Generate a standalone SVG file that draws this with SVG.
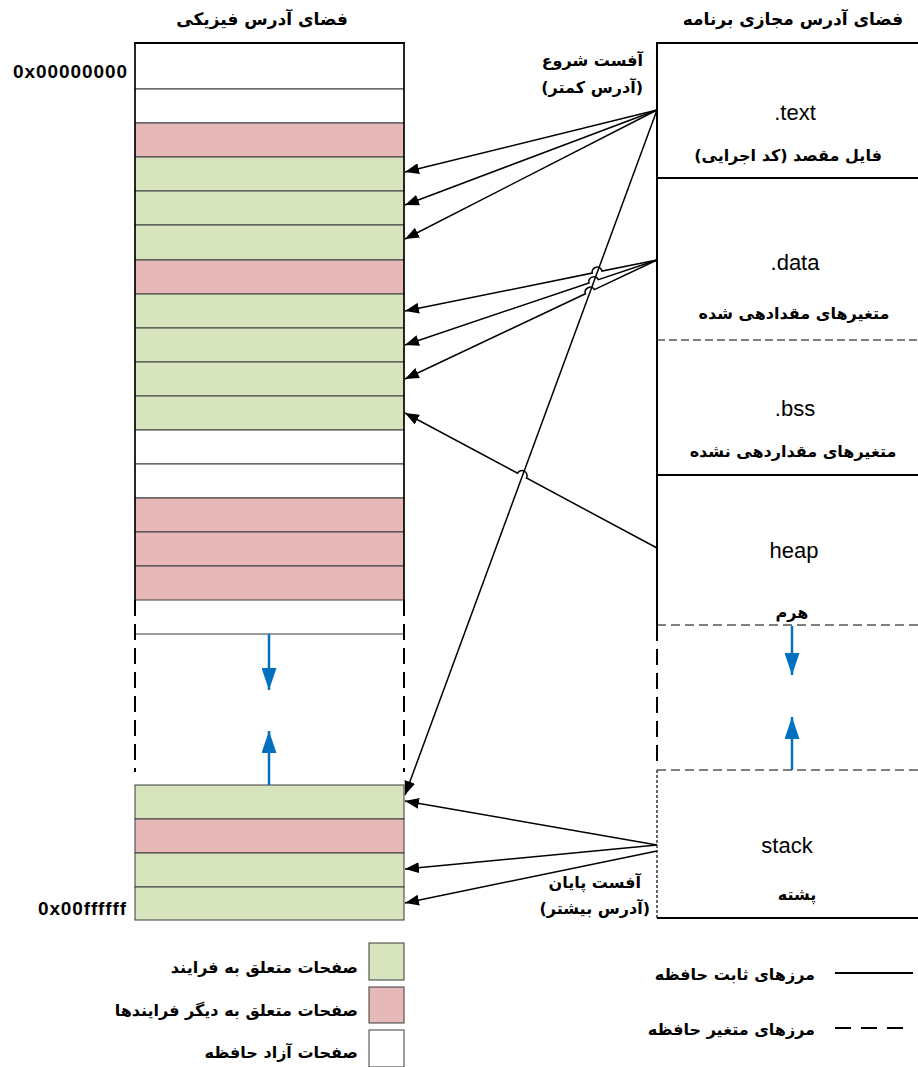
<svg xmlns="http://www.w3.org/2000/svg" width="918" height="1067" viewBox="0 0 918 1067">
  <defs>
    <style>
      .fa { font-family: "DejaVu Sans", "Noto Sans", sans-serif; font-weight: bold; font-size: 16px; direction: rtl; text-anchor: middle; fill: #000; }
      .right { text-anchor: start; }
      .hdr { font-size: 17px; }
      .en { font-family: "Liberation Sans", Arial, sans-serif; font-size: 22px; text-anchor: middle; fill: #000; }
      .hex { font-family: "Liberation Sans", Arial, sans-serif; font-size: 19px; font-weight: bold; fill: #000; }
      .g { fill: #d7e4bd; stroke: #3a3a3a; stroke-width: 1; }
      .p { fill: #e6b9b8; stroke: #3a3a3a; stroke-width: 1; }
      .w { fill: #ffffff; stroke: #3a3a3a; stroke-width: 1; }
      .edge { stroke: #000; stroke-width: 1.5; fill: none; }
      .bold { stroke: #000; stroke-width: 2; fill: none; }
      .longdash { stroke: #000; stroke-width: 2; fill: none; stroke-dasharray: 16 8; }
      .rowdash { stroke: #000; stroke-width: 1.2; fill: none; stroke-dasharray: 9 5; }
      .finedash { stroke: #000; stroke-width: 1; fill: none; stroke-dasharray: 8 4; }
      .dotted { stroke: #000; stroke-width: 1.2; fill: none; stroke-dasharray: 3 2; }
      .link { stroke: #000; stroke-width: 1.5; fill: none; marker-end: url(#ah); }
      .grow { stroke: #0070c0; stroke-width: 2.5; fill: none; marker-end: url(#bh); }
    </style>
    <marker id="ah" markerWidth="14" markerHeight="11" refX="14" refY="5.5" orient="auto" markerUnits="userSpaceOnUse">
      <path d="M0,0 L14,5.5 L0,11 z" fill="#000"/>
    </marker>
    <marker id="bh" markerWidth="22" markerHeight="15" refX="22" refY="7.5" orient="auto" markerUnits="userSpaceOnUse">
      <path d="M0,0 L22,7.5 L0,15 z" fill="#0070c0"/>
    </marker>
  </defs>

  <rect width="918" height="1067" fill="#fff"/>

  <!-- headers -->
  <text class="fa hdr" x="262" y="25">فضای آدرس فیزیکی</text>
  <text class="fa hdr" x="793" y="25">فضای آدرس مجازی برنامه</text>

  <!-- physical address space -->
  <g id="physical">
    <rect class="w" x="135" y="43" width="269" height="46"/>
    <rect class="w" x="135" y="89" width="269" height="34"/>
    <rect class="p" x="135" y="123" width="269" height="34"/>
    <rect class="g" x="135" y="157" width="269" height="34"/>
    <rect class="g" x="135" y="191" width="269" height="34"/>
    <rect class="g" x="135" y="225" width="269" height="35"/>
    <rect class="p" x="135" y="260" width="269" height="34"/>
    <rect class="g" x="135" y="294" width="269" height="34"/>
    <rect class="g" x="135" y="328" width="269" height="34"/>
    <rect class="g" x="135" y="362" width="269" height="34"/>
    <rect class="g" x="135" y="396" width="269" height="34"/>
    <rect class="w" x="135" y="430" width="269" height="34"/>
    <rect class="w" x="135" y="464" width="269" height="34"/>
    <rect class="p" x="135" y="498" width="269" height="34"/>
    <rect class="p" x="135" y="532" width="269" height="34"/>
    <rect class="p" x="135" y="566" width="269" height="34"/>
    <line x1="135" y1="634" x2="404" y2="634" stroke="#3a3a3a" stroke-width="1"/>
    <line class="bold" x1="134" y1="43" x2="405" y2="43"/>
    <line class="edge" x1="135" y1="43" x2="135" y2="600"/>
    <line class="edge" x1="404" y1="43" x2="404" y2="600"/>
    <line class="longdash" x1="135" y1="600" x2="135" y2="772"/>
    <line class="longdash" x1="404" y1="600" x2="404" y2="772"/>
    <rect class="g" x="135" y="785" width="269" height="34"/>
    <rect class="p" x="135" y="819" width="269" height="34"/>
    <rect class="g" x="135" y="853" width="269" height="34"/>
    <rect class="g" x="135" y="887" width="269" height="33"/>
    <line class="grow" x1="269" y1="634" x2="269" y2="690"/>
    <line class="grow" x1="269" y1="785" x2="269" y2="731"/>
    <text class="hex" x="13" y="78" textLength="114">0x00000000</text>
    <text class="hex" x="38" y="915" textLength="88">0x00ffffff</text>
  </g>

  <!-- virtual address space -->
  <g id="virtual">
    <line class="bold" x1="656" y1="43" x2="918" y2="43"/>
    <line class="bold" x1="657" y1="43" x2="657" y2="625"/>
    <line class="bold" x1="657" y1="178" x2="918" y2="178"/>
    <line class="finedash" x1="657" y1="340" x2="918" y2="340"/>
    <line class="bold" x1="657" y1="475" x2="918" y2="475"/>
    <line class="rowdash" x1="657" y1="625" x2="918" y2="625"/>
    <line class="longdash" x1="657" y1="625" x2="657" y2="768"/>
    <line class="rowdash" x1="657" y1="770" x2="918" y2="770"/>
    <line class="dotted" x1="657" y1="770" x2="657" y2="918"/>
    <line class="bold" x1="657" y1="918" x2="918" y2="918"/>
    <line class="grow" x1="792" y1="626" x2="792" y2="675"/>
    <line class="grow" x1="792" y1="770" x2="792" y2="717"/>
  </g>

  <g id="seg-text">
    <text class="en" x="795" y="120">.text</text>
    <text class="fa" x="788" y="161">فایل مقصد (کد اجرایی)</text>
  </g>
  <g id="seg-data">
    <text class="en" x="795" y="270">.data</text>
    <text class="fa" x="794" y="319">متغیرهای مقدادهی شده</text>
  </g>
  <g id="seg-bss">
    <text class="en" x="795" y="416">.bss</text>
    <text class="fa" x="793" y="457">متغیرهای مقداردهی نشده</text>
  </g>
  <g id="seg-heap">
    <text class="en" x="794" y="558">heap</text>
    <text class="fa" x="792" y="618">هرم</text>
  </g>
  <g id="seg-stack">
    <text class="en" x="787" y="853">stack</text>
    <text class="fa" x="797" y="900">پشته</text>
  </g>

  <g id="offset-start">
    <text class="fa right" x="643" y="66">آفست شروع</text>
    <text class="fa right" x="643" y="93">(آدرس کمتر)</text>
  </g>
  <g id="offset-end">
    <text class="fa right" x="641" y="888">آفست پایان</text>
    <text class="fa right" x="650" y="914">(آدرس بیشتر)</text>
  </g>

  <!-- page mappings -->
  <g id="connectors">
    <path class="link" d="M657,110 L405,172"/>
    <path class="link" d="M657,110 L405,205"/>
    <path class="link" d="M657,110 L405,239"/>
    <path class="link" d="M657,110 L405,795"/>
    <path class="link" d="M657,260 L602,271.1 A5,5 0 0 0 592.2,273.1 L405,311"/>
    <path class="link" d="M657,260 L598.4,279.7 A5,5 0 0 0 589,282.9 L405,345"/>
    <path class="link" d="M657,260 L594.4,289.6 A5,5 0 0 0 585.4,293.8 L405,379"/>
    <path class="link" d="M657,548 L526.4,478 A5,5 0 0 0 517.6,473.2 L405,413"/>
    <path class="link" d="M657,845 L405,801"/>
    <path class="link" d="M657,845 L405,869"/>
    <path class="link" d="M657,851 L405,903"/>
  </g>

  <!-- legend -->
  <g id="legend">
    <rect class="g" x="369" y="943" width="35" height="37"/>
    <rect class="p" x="369" y="987" width="35" height="36"/>
    <rect class="w" x="369" y="1030" width="35" height="37"/>
    <text class="fa right" x="358" y="973">صفحات متعلق به فرایند</text>
    <text class="fa right" x="358" y="1016">صفحات متعلق به دیگر فرایندها</text>
    <text class="fa right" x="358" y="1058">صفحات آزاد حافظه</text>
    <line x1="835" y1="973" x2="913" y2="973" stroke="#000" stroke-width="2"/>
    <line x1="835" y1="1028" x2="913" y2="1028" stroke="#000" stroke-width="2" stroke-dasharray="16 10"/>
    <text class="fa right" x="815" y="980">مرزهای ثابت  حافظه</text>
    <text class="fa right" x="815" y="1035">مرزهای متغیر حافظه</text>
  </g>
</svg>
